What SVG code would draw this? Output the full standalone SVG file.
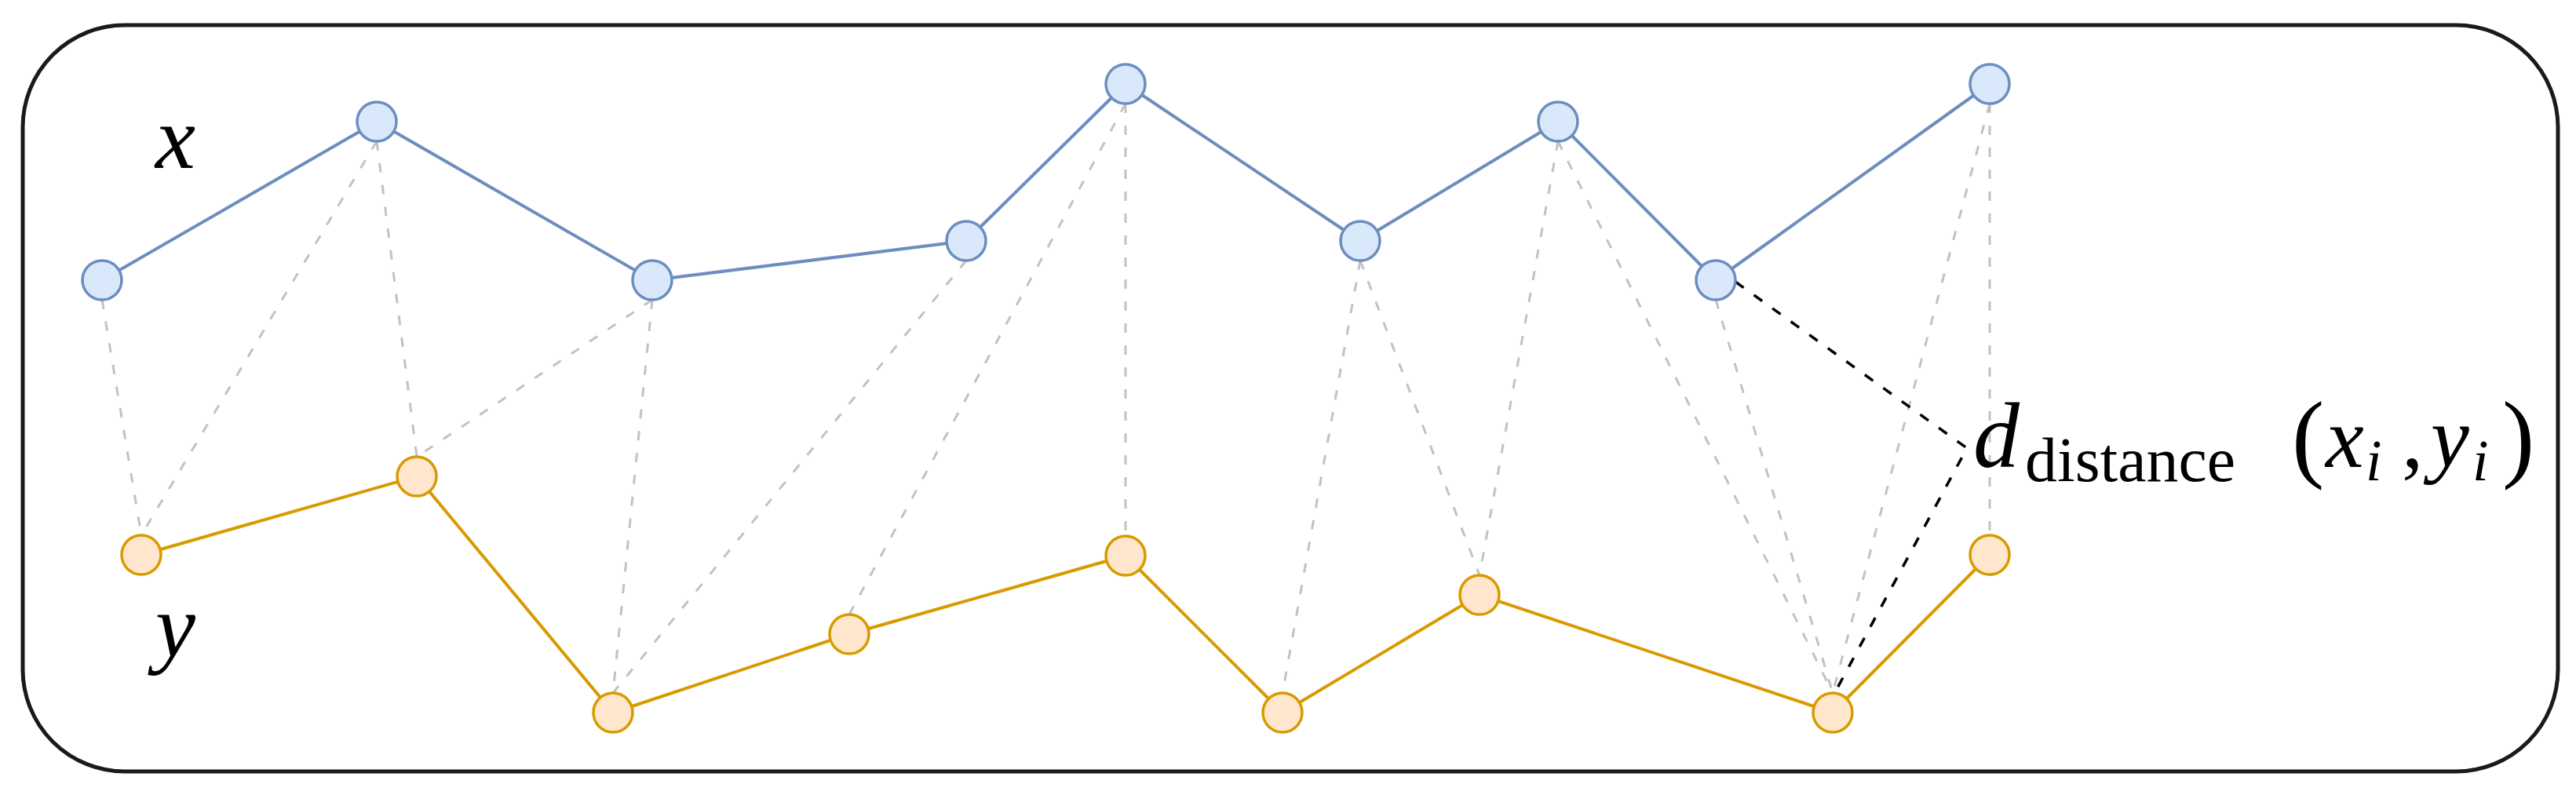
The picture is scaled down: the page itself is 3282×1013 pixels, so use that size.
<svg xmlns="http://www.w3.org/2000/svg" width="3282" height="1013" viewBox="0 0 3282 1013">
<style>
.frame{fill:#ffffff;stroke:#1a1a1a;stroke-width:5}
.xn{fill:#dae8fc;stroke:#6c8ebf;stroke-width:3.5}
.yn{fill:#ffe6cc;stroke:#d79b00;stroke-width:3.5}
.xl{fill:none;stroke:#6c8ebf;stroke-width:4;stroke-linejoin:round}
.yl{fill:none;stroke:#d79b00;stroke-width:4;stroke-linejoin:round}
.gd{fill:none;stroke:#c2c2c2;stroke-width:3;stroke-dasharray:12 16}
.bd{fill:none;stroke:#000000;stroke-width:3.5;stroke-dasharray:13 16}
.m{font-family:"Liberation Serif",serif;fill:#000000}
.it{font-style:italic}
</style>
<rect id="frame" class="frame" x="29" y="32" width="3230" height="951" rx="130" ry="130"/>
<g id="connectors">
  <polyline class="xl" points="130,357 480,155 831,357 1231,307 1434,107 1733,307 1985,155 2186,357 2535,107"/>
  <polyline class="yl" points="180,707 531,607 781,908 1082,808 1434,708 1634,908 1885,758 2335,908 2535,707"/>
  <line class="gd" x1="130" y1="382" x2="180" y2="682"/>
  <line class="gd" x1="480" y1="180" x2="180" y2="682"/>
  <line class="gd" x1="480" y1="180" x2="531" y2="582"/>
  <line class="gd" x1="831" y1="382" x2="531" y2="582"/>
  <line class="gd" x1="831" y1="382" x2="781" y2="883"/>
  <line class="gd" x1="1231" y1="332" x2="781" y2="883"/>
  <line class="gd" x1="1434" y1="132" x2="1082" y2="783"/>
  <line class="gd" x1="1434" y1="132" x2="1434" y2="683"/>
  <line class="gd" x1="1733" y1="332" x2="1634" y2="883"/>
  <line class="gd" x1="1733" y1="332" x2="1885" y2="733"/>
  <line class="gd" x1="1985" y1="180" x2="1885" y2="733"/>
  <line class="gd" x1="1985" y1="180" x2="2335" y2="883"/>
  <line class="gd" x1="2186" y1="382" x2="2335" y2="883"/>
  <line class="gd" x1="2535" y1="132" x2="2335" y2="883"/>
  <line class="gd" x1="2535" y1="132" x2="2535" y2="682"/>
  <polyline class="bd" points="2211,359 2506,571 2338,882"/>
</g>
<g id="x-nodes">
  <circle id="x1" class="xn" cx="130" cy="357" r="25"/>
  <circle id="x2" class="xn" cx="480" cy="155" r="25"/>
  <circle id="x3" class="xn" cx="831" cy="357" r="25"/>
  <circle id="x4" class="xn" cx="1231" cy="307" r="25"/>
  <circle id="x5" class="xn" cx="1434" cy="107" r="25"/>
  <circle id="x6" class="xn" cx="1733" cy="307" r="25"/>
  <circle id="x7" class="xn" cx="1985" cy="155" r="25"/>
  <circle id="x8" class="xn" cx="2186" cy="357" r="25"/>
  <circle id="x9" class="xn" cx="2535" cy="107" r="25"/>
</g>
<g id="y-nodes">
  <circle id="y1" class="yn" cx="180" cy="707" r="25"/>
  <circle id="y2" class="yn" cx="531" cy="607" r="25"/>
  <circle id="y3" class="yn" cx="781" cy="908" r="25"/>
  <circle id="y4" class="yn" cx="1082" cy="808" r="25"/>
  <circle id="y5" class="yn" cx="1434" cy="708" r="25"/>
  <circle id="y6" class="yn" cx="1634" cy="908" r="25"/>
  <circle id="y7" class="yn" cx="1885" cy="758" r="25"/>
  <circle id="y8" class="yn" cx="2335" cy="908" r="25"/>
  <circle id="y9" class="yn" cx="2535" cy="707" r="25"/>
</g>
<g id="label-x"><text class="m it" x="198" y="214" font-size="115">x</text></g>
<g id="label-y"><text class="m it" x="198" y="837" font-size="115">y</text></g>
<g id="label-distance">
  <text class="m" font-size="110"><tspan class="it" x="2514" y="595" font-size="118">d</tspan><tspan x="2580" y="613" font-size="80" textLength="268" lengthAdjust="spacingAndGlyphs">distance</tspan><tspan x="2920" y="598" font-size="124">(</tspan><tspan class="it" x="2963" y="595">x</tspan><tspan class="it" x="3014" y="612" font-size="74">i</tspan><tspan x="3060" y="595">,</tspan><tspan class="it" x="3097" y="595">y</tspan><tspan class="it" x="3150" y="612" font-size="74">i</tspan><tspan x="3188" y="598" font-size="124">)</tspan></text>
</g>
</svg>
